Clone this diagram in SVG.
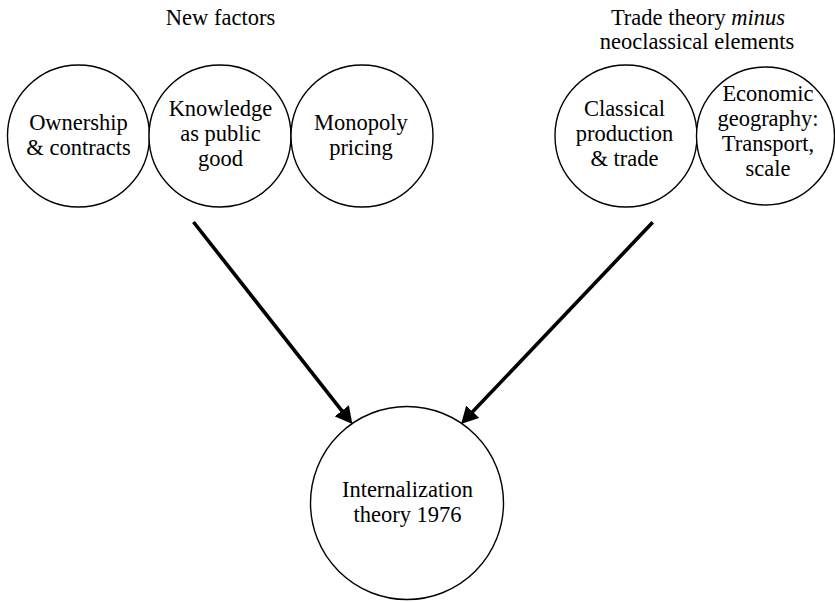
<svg xmlns="http://www.w3.org/2000/svg" width="835" height="602" viewBox="0 0 835 602">
  <style>
    .node { fill: #ffffff; stroke: #000000; stroke-width: 1.4; }
    .label { font-family: "Liberation Serif", "Times New Roman", serif; font-size: 22.5px; fill: #000000; text-anchor: middle; }
    .arrow { stroke: #000000; stroke-width: 3.6; fill: none; marker-end: url(#head); }
  </style>
  <defs>
    <marker id="head" markerUnits="userSpaceOnUse" viewBox="0 0 17 18" refX="4" refY="9" markerWidth="17" markerHeight="18" orient="auto">
      <path d="M0,0 L17,9 L0,18 Z" fill="#000000"/>
    </marker>
  </defs>

  <rect width="835" height="602" fill="#ffffff"/>

  <!-- group headings -->
  <g id="heading-new-factors">
    <text class="label" x="220.5" y="24.5">New factors</text>
  </g>
  <g id="heading-trade-theory">
    <text class="label" x="698" y="24.5">Trade theory <tspan font-style="italic">minus</tspan></text>
    <text class="label" x="697" y="48.5">neoclassical elements</text>
  </g>

  <!-- new factors -->
  <g id="ownership">
    <circle class="node" cx="78.5" cy="136" r="71"/>
    <text class="label" x="78.5" y="130">Ownership</text>
    <text class="label" x="78.5" y="154.5">&amp; contracts</text>
  </g>
  <g id="knowledge">
    <circle class="node" cx="220" cy="136" r="71"/>
    <text class="label" x="220.5" y="115.5">Knowledge</text>
    <text class="label" x="220.5" y="140.5">as public</text>
    <text class="label" x="220.5" y="165.5">good</text>
  </g>
  <g id="monopoly">
    <circle class="node" cx="362" cy="136" r="71"/>
    <text class="label" x="361" y="130">Monopoly</text>
    <text class="label" x="361" y="154.5">pricing</text>
  </g>

  <!-- trade theory elements -->
  <g id="classical">
    <circle class="node" cx="626" cy="136" r="71"/>
    <text class="label" x="624.5" y="115.5">Classical</text>
    <text class="label" x="624.5" y="140.5">production</text>
    <text class="label" x="624.5" y="165.5">&amp; trade</text>
  </g>
  <g id="economic-geography">
    <circle class="node" cx="765.5" cy="136" r="69"/>
    <text class="label" x="768" y="100.5">Economic</text>
    <text class="label" x="768" y="125.5">geography:</text>
    <text class="label" x="768" y="150.5">Transport,</text>
    <text class="label" x="768" y="175.5">scale</text>
  </g>

  <!-- result -->
  <g id="internalization">
    <circle class="node" cx="407" cy="503" r="96.5"/>
    <text class="label" x="407.5" y="497">Internalization</text>
    <text class="label" x="407.5" y="522">theory 1976</text>
  </g>

  <!-- connectors -->
  <g id="connectors">
    <line class="arrow" x1="193.5" y1="222" x2="344.3" y2="413.9"/>
    <line class="arrow" x1="652.7" y1="222.3" x2="470" y2="414.6"/>
  </g>
</svg>
